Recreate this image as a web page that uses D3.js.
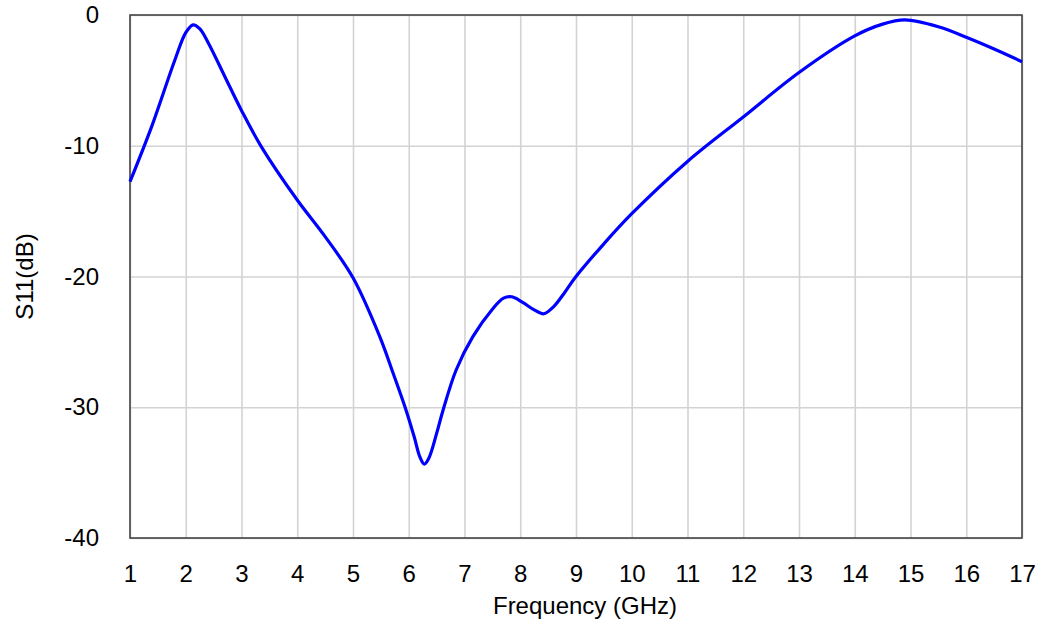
<!DOCTYPE html>
<html>
<head>
<meta charset="utf-8">
<script src="https://cdn.jsdelivr.net/npm/d3@7"></script>
<style>
  body { margin: 0; background: #fff; }
  text { font-family: "Liberation Sans", Arial, sans-serif; fill: #000; }
</style>
</head>
<body>
<div id="chart"></div>
<script>
var svgWidth = 1038;
var svgHeight = 622;

var margin = { top: 15, right: 16, bottom: 84, left: 130 };
var width = svgWidth - margin.left - margin.right;
var height = svgHeight - margin.top - margin.bottom;

// frequency (GHz) and S11 (dB)
var freq = [1, 1.4, 1.8, 2, 2.13, 2.25, 2.4, 2.7, 3, 3.36, 4, 4.5, 5, 5.48, 5.72, 5.93, 6.1, 6.2, 6.28, 6.36, 6.5, 6.61, 6.85, 7.15, 7.5, 7.7, 7.85, 8.05, 8.25, 8.42, 8.6, 8.8, 9, 9.5, 10, 11, 12, 13, 14, 14.5, 14.9, 15.5, 16, 16.5, 17];
var s11 = [-12.75, -8.4, -3.5, -1.35, -0.75, -1.05, -2.1, -4.7, -7.3, -10.1, -14.15, -16.95, -20.1, -24.6, -27.4, -29.95, -32.3, -33.8, -34.35, -33.9, -32.0, -30.3, -27.15, -24.6, -22.5, -21.65, -21.55, -22.0, -22.55, -22.85, -22.3, -21.2, -20.0, -17.5, -15.2, -11.2, -7.8, -4.4, -1.6, -0.7, -0.38, -0.9, -1.7, -2.6, -3.57];

var xTicks = d3.range(1, 18);
var yTicks = [0, -10, -20, -30, -40];

// plain hyphen for negatives, like the original
var fmt = d => String(d);

var svg = d3.select("#chart")
  .append("svg")
  .attr("width", svgWidth)
  .attr("height", svgHeight);

var chartGroup = svg.append("g")
  .attr("transform", `translate(${margin.left}, ${margin.top})`);

var xScale = d3.scaleLinear().domain([1, 17]).range([0, width]);
var yScale = d3.scaleLinear().domain([-40, 0]).range([height, 0]);

// grid lines
chartGroup.append("g")
  .attr("transform", `translate(0, ${height})`)
  .call(d3.axisBottom(xScale).tickValues(xTicks).tickSize(-height).tickFormat(""))
  .call(g => g.select(".domain").remove())
  .call(g => g.selectAll("line").attr("stroke", "#d3d3d3").attr("stroke-width", 1.6));

chartGroup.append("g")
  .call(d3.axisLeft(yScale).tickValues(yTicks).tickSize(-width).tickFormat(""))
  .call(g => g.select(".domain").remove())
  .call(g => g.selectAll("line").attr("stroke", "#d3d3d3").attr("stroke-width", 1.6));

// tick labels
var bottomAxis = chartGroup.append("g")
  .attr("transform", `translate(0, ${height})`)
  .call(d3.axisBottom(xScale).tickValues(xTicks).tickSize(0).tickPadding(27).tickFormat(fmt));
bottomAxis.select(".domain").remove();
bottomAxis.selectAll("text").attr("font-size", "24px").attr("font-family", "Liberation Sans, Arial, sans-serif");

var leftAxis = chartGroup.append("g")
  .call(d3.axisLeft(yScale).tickValues(yTicks).tickSize(0).tickPadding(31).tickFormat(fmt));
leftAxis.select(".domain").remove();
leftAxis.selectAll("text").attr("font-size", "24px").attr("font-family", "Liberation Sans, Arial, sans-serif");

// frame
chartGroup.append("rect")
  .attr("x", 0).attr("y", 0)
  .attr("width", width).attr("height", height)
  .attr("fill", "none")
  .attr("stroke", "#444")
  .attr("stroke-width", 1.6);

// curve
var line = d3.line()
  .x((d, i) => xScale(freq[i]))
  .y(d => yScale(d))
  .curve(d3.curveCatmullRom.alpha(0.5));

chartGroup.append("path")
  .datum(s11)
  .attr("d", line)
  .attr("fill", "none")
  .attr("stroke", "#0000ff")
  .attr("stroke-width", 3.2);

// axis titles
svg.append("text")
  .attr("x", 585)
  .attr("y", 614)
  .attr("text-anchor", "middle")
  .attr("font-size", "24px")
  .text("Frequency (GHz)");

svg.append("text")
  .attr("transform", "rotate(-90)")
  .attr("x", -(margin.top + height / 2))
  .attr("y", 33)
  .attr("text-anchor", "middle")
  .attr("font-size", "24px")
  .text("S11(dB)");
</script>
</body>
</html>
